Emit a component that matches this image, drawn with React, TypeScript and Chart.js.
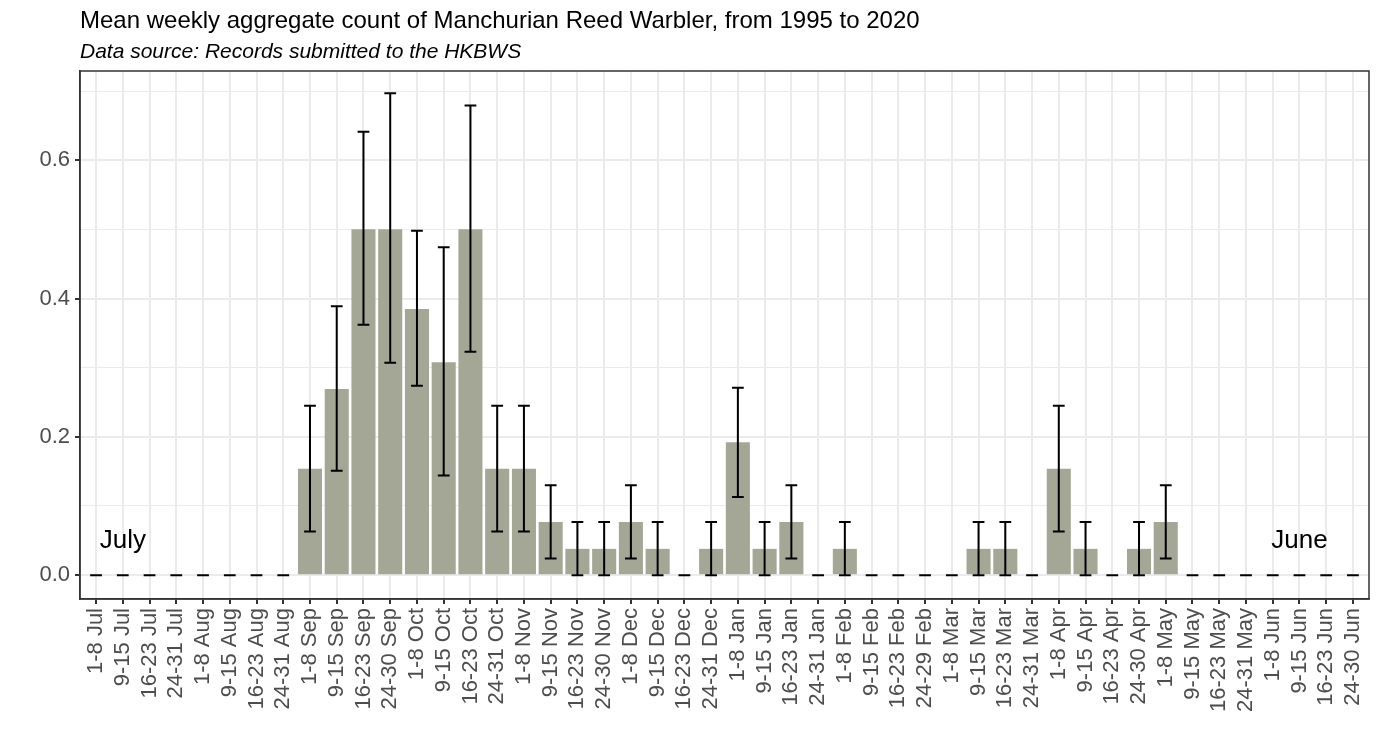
import React, { useEffect, useRef } from "react";
import { Chart, registerables } from "chart.js";

Chart.register(...registerables);

const TITLE = "Mean weekly aggregate count of Manchurian Reed Warbler, from 1995 to 2020";
const SUBTITLE = "Data source: Records submitted to the HKBWS";

const weekLabels: string[] = [
  "1-8 Jul", "9-15 Jul", "16-23 Jul", "24-31 Jul",
  "1-8 Aug", "9-15 Aug", "16-23 Aug", "24-31 Aug",
  "1-8 Sep", "9-15 Sep", "16-23 Sep", "24-30 Sep",
  "1-8 Oct", "9-15 Oct", "16-23 Oct", "24-31 Oct",
  "1-8 Nov", "9-15 Nov", "16-23 Nov", "24-30 Nov",
  "1-8 Dec", "9-15 Dec", "16-23 Dec", "24-31 Dec",
  "1-8 Jan", "9-15 Jan", "16-23 Jan", "24-31 Jan",
  "1-8 Feb", "9-15 Feb", "16-23 Feb", "24-29 Feb",
  "1-8 Mar", "9-15 Mar", "16-23 Mar", "24-31 Mar",
  "1-8 Apr", "9-15 Apr", "16-23 Apr", "24-30 Apr",
  "1-8 May", "9-15 May", "16-23 May", "24-31 May",
  "1-8 Jun", "9-15 Jun", "16-23 Jun", "24-30 Jun",
];

const meanCount: number[] = [
  0, 0, 0, 0,
  0, 0, 0, 0,
  0.154, 0.269, 0.5, 0.5,
  0.385, 0.308, 0.5, 0.154,
  0.154, 0.077, 0.038, 0.038,
  0.077, 0.038, 0, 0.038,
  0.192, 0.038, 0.077, 0,
  0.038, 0, 0, 0,
  0, 0.038, 0.038, 0,
  0.154, 0.038, 0, 0.038,
  0.077, 0, 0, 0,
  0, 0, 0, 0,
];

const lowerCount: number[] = [
  0, 0, 0, 0,
  0, 0, 0, 0,
  0.063, 0.151, 0.362, 0.307,
  0.274, 0.144, 0.323, 0.063,
  0.063, 0.024, 0, 0,
  0.024, 0, 0, 0,
  0.113, 0, 0.024, 0,
  0, 0, 0, 0,
  0, 0, 0, 0,
  0.063, 0, 0, 0,
  0.024, 0, 0, 0,
  0, 0, 0, 0,
];

const upperCount: number[] = [
  0, 0, 0, 0,
  0, 0, 0, 0,
  0.245, 0.389, 0.641, 0.697,
  0.498, 0.474, 0.679, 0.245,
  0.245, 0.130, 0.077, 0.077,
  0.130, 0.077, 0, 0.077,
  0.271, 0.077, 0.130, 0,
  0.077, 0, 0, 0,
  0, 0.077, 0.077, 0,
  0.245, 0.077, 0, 0.077,
  0.130, 0, 0, 0,
  0, 0, 0, 0,
];

const yTickValues: number[] = [0, 0.1, 0.2, 0.3, 0.4, 0.5, 0.6, 0.7];
const yTickLabels: string[] = ["0.0", "", "0.2", "", "0.4", "", "0.6", ""];

const annotations = [
  { text: "July", x: 1, y: 0.05 },
  { text: "June", x: 45, y: 0.05 },
];

const FONT = "'Liberation Sans', Arial, Helvetica, sans-serif";

const overlayPlugin = {
  id: "overlay",
  afterDatasetsDraw(chart: any) {
    const ctx = chart.ctx;
    const xs = chart.scales.x;
    const ys = chart.scales.y;
    const step = xs.getPixelForValue(1) - xs.getPixelForValue(0);
    const half = step * 0.22;
    ctx.save();
    ctx.strokeStyle = "#000000";
    ctx.lineWidth = 2;
    ctx.lineCap = "butt";
    for (let i = 0; i < meanCount.length; i++) {
      const x = xs.getPixelForValue(i);
      const y1 = ys.getPixelForValue(lowerCount[i]);
      const y2 = ys.getPixelForValue(upperCount[i]);
      ctx.beginPath();
      ctx.moveTo(x, y1);
      ctx.lineTo(x, y2);
      ctx.moveTo(x - half, y1);
      ctx.lineTo(x + half, y1);
      ctx.moveTo(x - half, y2);
      ctx.lineTo(x + half, y2);
      ctx.stroke();
    }
    ctx.fillStyle = "#000000";
    ctx.font = `26px ${FONT}`;
    ctx.textAlign = "center";
    ctx.textBaseline = "middle";
    for (const a of annotations) {
      ctx.fillText(a.text, xs.getPixelForValue(a.x), ys.getPixelForValue(a.y));
    }
    ctx.restore();
  },
  afterDraw(chart: any) {
    const ctx = chart.ctx;
    const a = chart.chartArea;
    ctx.save();
    ctx.strokeStyle = "#333333";
    ctx.lineWidth = 1.5;
    ctx.strokeRect(a.left, a.top, a.right - a.left, a.bottom - a.top);
    ctx.fillStyle = "#000000";
    ctx.textAlign = "left";
    ctx.textBaseline = "alphabetic";
    ctx.font = `24px ${FONT}`;
    ctx.fillText(TITLE, a.left, 28);
    ctx.font = `italic 21px ${FONT}`;
    ctx.fillText(SUBTITLE, a.left, 58);
    ctx.restore();
  },
};

export default function App() {
  const ref = useRef<HTMLCanvasElement | null>(null);

  useEffect(() => {
    if (!ref.current) return;
    const chart = new Chart(ref.current, {
      type: "bar",
      data: {
        datasets: [
          {
            data: meanCount.map((v, i) => ({ x: i, y: v })),
            backgroundColor: "#a5a796",
            borderWidth: 0,
            barPercentage: 0.9,
            categoryPercentage: 1,
          },
        ],
      },
      options: {
        animation: false,
        responsive: false,
        devicePixelRatio: 1,
        layout: { padding: { top: 71, right: 10, left: 0, bottom: 0 } },
        plugins: {
          legend: { display: false },
          tooltip: { enabled: false },
          title: { display: false },
        },
        scales: {
          x: {
            type: "linear",
            offset: false,
            min: -0.6,
            max: 47.6,
            afterBuildTicks: (scale: any) => {
              scale.ticks = weekLabels.map((_, i) => ({ value: i }));
            },
            afterFit: (scale: any) => {
              scale.height = 153;
              scale.paddingLeft = 0;
              scale.paddingRight = 0;
            },
            ticks: {
              autoSkip: false,
              minRotation: 90,
              maxRotation: 90,
              padding: 4,
              color: "#4d4d4d",
              font: { family: FONT, size: 22 },
              callback: (value: any) => weekLabels[Math.round(Number(value))] ?? "",
            },
            grid: {
              offset: false,
              color: "#ebebeb",
              lineWidth: 2,
              tickColor: "#333333",
              tickLength: 5,
              drawOnChartArea: true,
            },
            border: { display: true, color: "#333333", width: 1.5 },
          },
          y: {
            type: "linear",
            min: -0.0345,
            max: 0.729,
            afterBuildTicks: (scale: any) => {
              scale.ticks = yTickValues.map((v) => ({ value: v }));
            },
            afterFit: (scale: any) => {
              scale.width = 80;
              scale.paddingTop = 0;
              scale.paddingBottom = 0;
            },
            ticks: {
              padding: 5,
              color: "#4d4d4d",
              font: { family: FONT, size: 22 },
              callback: (_v: any, index: number) => yTickLabels[index] ?? "",
            },
            grid: {
              color: "#ebebeb",
              lineWidth: (c: any) => (c.index % 2 === 0 ? 2 : 1),
              tickColor: (c: any) => (c.index % 2 === 0 ? "#333333" : "rgba(0,0,0,0)"),
              tickLength: 5,
            },
            border: { display: true, color: "#333333", width: 1.5 },
          },
        },
      },
      plugins: [overlayPlugin],
    } as any);
    return () => chart.destroy();
  }, []);

  return (
    <div style={{ position: "absolute", left: 0, top: 0, width: 1379, height: 752, background: "#ffffff" }}>
      <canvas ref={ref} width={1379} height={752} style={{ display: "block" }} />
    </div>
  );
}
